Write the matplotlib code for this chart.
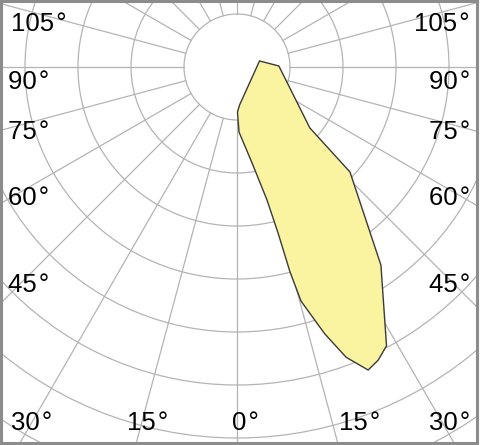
import numpy as np
import matplotlib
matplotlib.use('Agg')
import matplotlib.pyplot as plt
from matplotlib.patches import Circle, Polygon

# light distribution outline: angle from nadir (deg, + = right) and radius in ring units
curve_angle = [105.0, 91.4, 50.1, 47.1, 36.0, 28.2, 25.7, 23.4, 20.6, 18.2,
               15.3, 14.5, 13.9, 12.7, 8.9, 1.8, 0.6, 3.8]
curve_radius = [0.44, 0.79, 1.79, 2.91, 4.62, 5.97, 6.14, 6.23, 5.85, 5.30,
                4.58, 3.99, 3.23, 2.57, 1.83, 1.23, 0.85, 0.72]

ring_radii = [1, 2, 3, 4, 5, 6, 7, 8, 9]
ray_angles = np.arange(0, 360, 15)

side_labels = [105, 90, 75, 60, 45]
bottom_labels = [30, 15, 0, 15, 30]

# layout (pixels, from top-left of the 480x445 image)
W, H = 480, 445
cx, cy, unit = 237.0, 67.0, 53.0
side_label_x = [11, 8, 8, 8, 8]
side_label_y = [24, 82, 132, 198, 285]
bottom_label_x = [11, 127, 232, 339, 429]
bottom_label_y = 423

grid_col = '#b4b4b4'
fill_col = '#faf3a0'

plt.rcParams['font.family'] = ['Liberation Sans', 'DejaVu Sans']

fig = plt.figure(figsize=(W / 100, H / 100), dpi=100)
fig.patch.set_facecolor('white')
ax = fig.add_axes([1 / W, 2 / H, 476 / W, 442 / H])
ax.set_xlim((1 - cx) / unit, (477 - cx) / unit)
ax.set_ylim(-(443 - cy) / unit, (cy - 1) / unit)
ax.set_aspect('auto')
ax.set_xticks([])
ax.set_yticks([])
for sp in ax.spines.values():
    sp.set_color('#8c8c8c')
    sp.set_linewidth(2.2)

# rings
for r in ring_radii:
    ax.add_patch(Circle((0, 0), r, fill=False, ec=grid_col, lw=0.9, zorder=1))

# rays, starting at the inner ring
for a in ray_angles:
    t = np.radians(a)
    ax.plot([np.sin(t) * ring_radii[0], np.sin(t) * 12],
            [-np.cos(t) * ring_radii[0], -np.cos(t) * 12],
            color=grid_col, lw=0.9, zorder=1)

# curve
th = np.radians(curve_angle)
rr = np.array(curve_radius)
pts = np.column_stack([rr * np.sin(th), -rr * np.cos(th)])
ax.add_patch(Polygon(pts, closed=True, fc=fill_col, ec='#3a3a3a', lw=1.0, zorder=3))

fs = 18.5
deg = '\u200a°'
for lab, x, y in zip(side_labels, side_label_x, side_label_y):
    fig.text(x / W, 1 - y / H, f'{lab}{deg}', ha='left', va='center', fontsize=fs)
    fig.text(470 / W, 1 - y / H, f'{lab}{deg}', ha='right', va='center', fontsize=fs)
for lab, x in zip(bottom_labels, bottom_label_x):
    fig.text(x / W, 1 - bottom_label_y / H, f'{lab}{deg}', ha='left', va='center', fontsize=fs)

fig.savefig('out.png', dpi=100)
